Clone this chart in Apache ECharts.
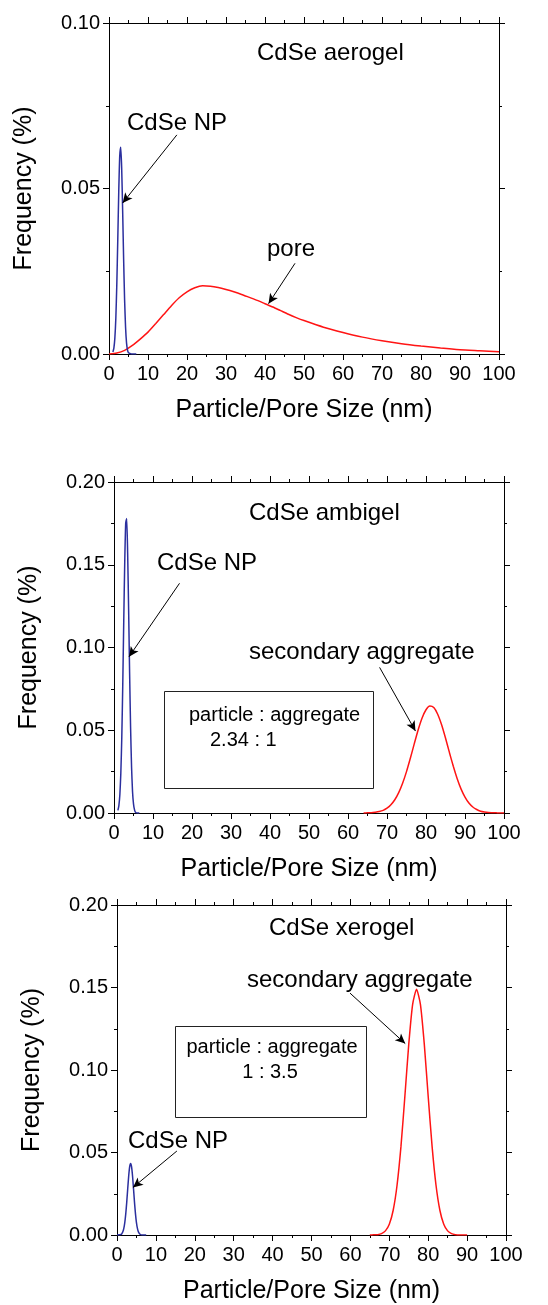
<!DOCTYPE html>
<html>
<head>
<meta charset="utf-8">
<script src="https://cdn.jsdelivr.net/npm/echarts@6/dist/echarts.min.js"></script>
<style>
  html, body { margin: 0; padding: 0; background: #fff; }
  #chart { width: 548px; height: 1305px; }
</style>
</head>
<body>
<div id="chart"></div>
<script>
// size distributions, [size nm, frequency %]
const aerogelNP = [[1, 0.0006], [1.25, 0.0018], [1.5, 0.0048], [1.75, 0.0108], [2, 0.0209],
  [2.25, 0.0345], [2.5, 0.049], [2.75, 0.0597], [3, 0.0625], [3.25, 0.0562], [3.5, 0.0433],
  [3.75, 0.0287], [4, 0.0164], [4.25, 0.008], [4.5, 0.0033], [4.75, 0.0012], [5, 0.0004],
  [5.5, 0.0001], [6, 0], [7, 0]]
const aerogelPore = [[0, 0], [2, 0.0003], [4, 0.0011], [6, 0.0026], [8, 0.0045], [10, 0.0066],
  [12, 0.0092], [14, 0.0119], [16, 0.0146], [18, 0.017], [20, 0.0188], [22, 0.02], [24, 0.0206],
  [26, 0.0205], [28, 0.0201], [30, 0.0195], [32, 0.0188], [34, 0.018], [36, 0.0171], [38, 0.0162],
  [40, 0.0152], [42, 0.0142], [44, 0.0131], [46, 0.012], [48, 0.011], [50, 0.0101], [55, 0.0081],
  [60, 0.0065], [65, 0.0051], [70, 0.004], [75, 0.0031], [80, 0.0024], [85, 0.0018], [90, 0.0013],
  [95, 0.001], [100, 0.0007]]

const ambigelNP = [[1, 0.0016], [1.25, 0.0045], [1.5, 0.011], [1.75, 0.024], [2, 0.046],
  [2.25, 0.078], [2.5, 0.116], [2.75, 0.151], [3, 0.175], [3.25, 0.178], [3.5, 0.157],
  [3.75, 0.123], [4, 0.085], [4.25, 0.052], [4.5, 0.028], [4.75, 0.013], [5, 0.0055],
  [5.25, 0.002], [5.5, 0.0005], [6, 0], [6.5, 0]]
const ambigelAgg = [[64, 0], [65, 0.0001], [66, 0.0002], [67, 0.0005], [68, 0.0009], [69, 0.0016],
  [70, 0.0029], [71, 0.005], [72, 0.008], [73, 0.0123], [74, 0.018], [75, 0.025], [76, 0.0332],
  [77, 0.0419], [78, 0.0503], [79, 0.0574], [80, 0.0624], [81, 0.0647], [82, 0.0637], [83, 0.0597],
  [84, 0.0533], [85, 0.0453], [86, 0.0366], [87, 0.0282], [88, 0.0207], [89, 0.0144], [90, 0.0096],
  [91, 0.006], [92, 0.0036], [93, 0.0021], [94, 0.0011], [95, 0.0006], [96, 0.0003], [97, 0.0002],
  [98, 0.0001], [99, 0], [100, 0]]

const xerogelNP = [[0, 0], [1, 0.0003], [1.25, 0.0008], [1.5, 0.0019], [1.75, 0.004], [2, 0.0075],
  [2.25, 0.0128], [2.5, 0.0198], [2.75, 0.0279], [3, 0.0356], [3.25, 0.0413], [3.5, 0.0433],
  [3.75, 0.0413], [4, 0.0356], [4.25, 0.0279], [4.5, 0.0198], [4.75, 0.0128], [5, 0.0075],
  [5.25, 0.004], [5.5, 0.0019], [6, 0.0003], [6.5, 0], [7.5, 0]]
const xerogelAgg = [[65, 0], [66, 0.0001], [67, 0.0002], [68, 0.0008], [69, 0.0025], [70, 0.0065],
  [71, 0.015], [72, 0.0303], [73, 0.0537], [74, 0.0839], [75, 0.1155], [76, 0.1398], [77, 0.149],
  [78, 0.1398], [79, 0.1155], [80, 0.0839], [81, 0.0537], [82, 0.0303], [83, 0.015], [84, 0.0065],
  [85, 0.0025], [86, 0.0008], [87, 0.0002], [88, 0], [90, 0]]

// y-axis maxima per panel, x axis shared
const yMax = [0.1, 0.2, 0.2]
const xMax = 100

// arrows: [fromX, fromY, toX, toY] in data units
const arrows = [
  [[17.4, 0.0662, 3.5, 0.0456], [47.7, 0.0274, 40.9, 0.0152]],
  [[16.8, 0.1388, 3.85, 0.0944], [68.1, 0.088, 77.3, 0.0495]],
  [[15.4, 0.0509, 4.1, 0.0288], [59.9, 0.1466, 74.1, 0.116]]
]

const font = '"Liberation Sans", Arial, sans-serif'
const blue = '#2b2f9e'
const red = '#ff1414'

const grids = [
  { left: 109, top: 23, width: 390, height: 331 },
  { left: 114, top: 482, width: 390, height: 331 },
  { left: 117, top: 905, width: 389, height: 331 }
]

let xAxes = [], yAxes = [], series = []

grids.forEach((g, i) => {
  const base = {
    gridIndex: i, type: 'value', min: 0,
    axisLine: { show: true, onZero: false, lineStyle: { color: '#000', width: 1 } },
    axisTick: { show: true, inside: false, length: 6, lineStyle: { color: '#000' } },
    minorTick: { show: true, splitNumber: 2, length: 3, lineStyle: { color: '#000' } },
    splitLine: { show: false },
  }
  xAxes.push(Object.assign({}, base, {
    position: 'bottom', max: xMax, interval: 10,
    name: 'Particle/Pore Size (nm)', nameLocation: 'middle', nameGap: 44,
    nameTextStyle: { fontFamily: font, fontSize: 25, color: '#000' },
    axisLabel: { fontFamily: font, fontSize: 20, color: '#000', margin: 10, showMaxLabel: true },
  }))
  xAxes.push(Object.assign({}, base, {
    position: 'top', max: xMax, interval: 10, axisLabel: { show: false },
  }))
  yAxes.push(Object.assign({}, base, {
    position: 'left', max: yMax[i], interval: 0.05,
    name: 'Frequency (%)', nameLocation: 'middle', nameGap: 72,
    nameTextStyle: { fontFamily: font, fontSize: 25, color: '#000' },
    axisLabel: { fontFamily: font, fontSize: 20, color: '#000', margin: 9,
      formatter: v => v.toFixed(2) },
  }))
  yAxes.push(Object.assign({}, base, {
    position: 'right', max: yMax[i], interval: 0.05, axisLabel: { show: false },
  }))
})

function line(data, color, idx, arrowList) {
  const s = {
    type: 'line', data: data, xAxisIndex: idx * 2, yAxisIndex: idx * 2,
    showSymbol: false, smooth: 0.2, lineStyle: { color: color, width: 1.5 },
    itemStyle: { color: color }, z: 3,
  }
  if (arrowList) {
    s.markLine = {
      silent: true, animation: false,
      label: { show: false },
      lineStyle: { color: '#000', width: 1, type: 'solid' },
      symbolSize: [7, 10],
      data: arrowList.map(a => [
        { coord: [a[0], a[1]], symbol: 'none' },
        { coord: [a[2], a[3]], symbol: 'arrow' }
      ])
    }
  }
  return s
}

series.push(line(aerogelPore, red, 0, arrows[0]))
series.push(line(aerogelNP, blue, 0))
series.push(line(ambigelAgg, red, 1, arrows[1]))
series.push(line(ambigelNP, blue, 1))
series.push(line(xerogelAgg, red, 2, arrows[2]))
series.push(line(xerogelNP, blue, 2))

function txt(s, x, y, size, align) {
  return {
    type: 'text', x: x, y: y, z: 10,
    style: { text: s, font: size + 'px ' + font, fill: '#000',
      textAlign: align || 'left', textVerticalAlign: 'middle' }
  }
}
function box(x, y, w, h) {
  return {
    type: 'rect', z: 5, shape: { x: x, y: y, width: w, height: h },
    style: { fill: 'none', stroke: '#222', lineWidth: 1 }
  }
}

const graphics = [
  txt('CdSe aerogel', 257, 53, 24),
  txt('CdSe NP', 127, 123, 24),
  txt('pore', 267, 249, 24),

  txt('CdSe ambigel', 249, 513, 24),
  txt('CdSe NP', 157, 563, 24),
  txt('secondary aggregate', 249, 652, 24),
  box(164.5, 691.5, 209, 97),
  txt('particle : aggregate', 189, 715, 20),
  txt('2.34 : 1', 210, 740, 20),

  txt('CdSe xerogel', 269, 928, 24),
  txt('secondary aggregate', 247, 980, 24),
  txt('CdSe NP', 128, 1141, 24),
  box(175.5, 1026.5, 191, 91),
  txt('particle : aggregate', 272, 1047, 20, 'center'),
  txt('1 : 3.5', 270, 1072, 20, 'center'),
]

const chart = echarts.init(document.getElementById('chart'))
chart.setOption({
  animation: false,
  backgroundColor: '#fff',
  grid: grids,
  xAxis: xAxes,
  yAxis: yAxes,
  series: series,
  graphic: graphics,
})
</script>
</body>
</html>
